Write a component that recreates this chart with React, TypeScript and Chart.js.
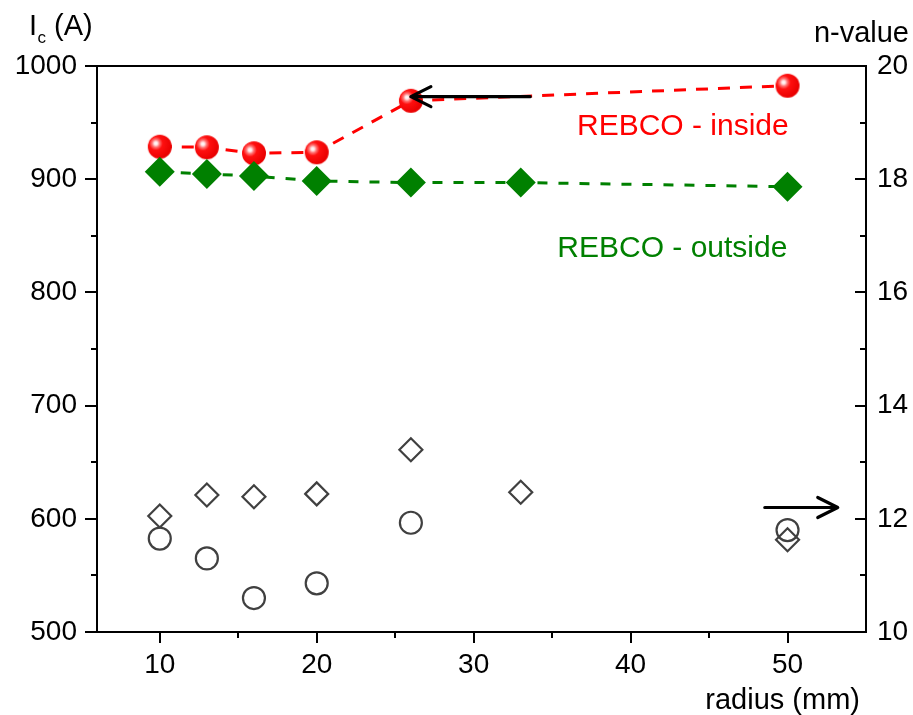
import React, { useEffect, useRef } from "react";
import { Chart, registerables } from "chart.js";

Chart.register(...registerables);

// ---- data ----
const insideRadius = [10, 13, 16, 20, 26, 50];
const insideIc = [928.7, 928.2, 922.9, 923.8, 969.3, 982.6];
const outsideRadius = [10, 13, 16, 20, 26, 33, 50];
const outsideIc = [906.6, 904.6, 902.8, 898.4, 897.0, 897.0, 893.4];
const insideN = [11.65, 11.3, 10.6, 10.86, 11.93, 11.8];
const outsideN = [12.05, 12.42, 12.39, 12.44, 13.22, 12.47, 11.63];

const xTicks = [10, 20, 30, 40, 50];
const xMinor = [15, 25, 35, 45];
const icTicks = [500, 600, 700, 800, 900, 1000];
const icMinor = [550, 650, 750, 850, 950];
const nTicks = [10, 12, 14, 16, 18, 20];
const nMinor = [11, 13, 15, 17, 19];

const FONT = "'Liberation Sans', Arial, Helvetica, sans-serif";

function pts(xs: number[], ys: number[]) {
  return xs.map((x, i) => ({ x, y: ys[i] }));
}

function makeSphere(r: number) {
  const s = 2 * r + 2;
  const c = document.createElement("canvas");
  c.width = s;
  c.height = s;
  const ctx = c.getContext("2d")!;
  const cx = s / 2;
  const cy = s / 2;
  const hx = cx - r * 0.33;
  const hy = cy - r * 0.28;
  const g = ctx.createRadialGradient(hx, hy, 0, hx, hy, r * 1.35);
  g.addColorStop(0, "#ffffff");
  g.addColorStop(0.1, "#ffe8e8");
  g.addColorStop(0.24, "#ff7070");
  g.addColorStop(0.42, "#ff1010");
  g.addColorStop(1, "#e80000");
  ctx.fillStyle = g;
  ctx.beginPath();
  ctx.arc(cx, cy, r, 0, Math.PI * 2);
  ctx.fill();
  return c;
}

const decorPlugin = {
  id: "decor",
  afterDraw(chart: any) {
    const ctx = chart.ctx as CanvasRenderingContext2D;
    const { left, right, top, bottom } = chart.chartArea;
    const xs = chart.scales.x;
    const y1 = chart.scales.y;
    const y2 = chart.scales.y2;
    ctx.save();
    ctx.strokeStyle = "#000";
    ctx.lineWidth = 2;
    ctx.setLineDash([]);
    ctx.strokeRect(left, top, right - left, bottom - top);
    ctx.beginPath();
    xTicks.forEach((v) => {
      const p = Math.round(xs.getPixelForValue(v));
      ctx.moveTo(p, bottom);
      ctx.lineTo(p, bottom + 11);
    });
    xMinor.forEach((v) => {
      const p = Math.round(xs.getPixelForValue(v));
      ctx.moveTo(p, bottom);
      ctx.lineTo(p, bottom + 6);
    });
    icTicks.forEach((v) => {
      const p = Math.round(y1.getPixelForValue(v));
      ctx.moveTo(left - 12, p);
      ctx.lineTo(left, p);
    });
    icMinor.forEach((v) => {
      const p = Math.round(y1.getPixelForValue(v));
      ctx.moveTo(left - 6, p);
      ctx.lineTo(left, p);
    });
    nTicks.forEach((v) => {
      const p = Math.round(y2.getPixelForValue(v));
      ctx.moveTo(right - 11, p);
      ctx.lineTo(right, p);
    });
    nMinor.forEach((v) => {
      const p = Math.round(y2.getPixelForValue(v));
      ctx.moveTo(right - 6, p);
      ctx.lineTo(right, p);
    });
    ctx.stroke();

    // arrows
    const arrow = (x0: number, x1: number, yy: number) => {
      ctx.lineWidth = 3.2;
      ctx.lineCap = "round";
      ctx.lineJoin = "round";
      ctx.beginPath();
      ctx.moveTo(x0, yy);
      ctx.lineTo(x1, yy);
      const d = x1 > x0 ? -1 : 1;
      ctx.moveTo(x1 + d * 20, yy - 10);
      ctx.lineTo(x1, yy);
      ctx.lineTo(x1 + d * 20, yy + 10);
      ctx.stroke();
    };
    arrow(xs.getPixelForValue(33.6), xs.getPixelForValue(26), y1.getPixelForValue(972.9));
    arrow(xs.getPixelForValue(48.55), xs.getPixelForValue(53.2), y2.getPixelForValue(12.2));

    // texts
    ctx.textBaseline = "alphabetic";
    ctx.font = `30px ${FONT}`;
    ctx.textAlign = "center";
    ctx.fillStyle = "#ff0000";
    ctx.fillText("REBCO - inside", xs.getPixelForValue(43.33), y1.getPixelForValue(939));
    ctx.fillStyle = "#008000";
    ctx.fillText("REBCO - outside", xs.getPixelForValue(42.66), y1.getPixelForValue(831.3));

    ctx.fillStyle = "#000";
    ctx.font = `29px ${FONT}`;
    ctx.textAlign = "left";
    ctx.fillText("I", 29, 35);
    ctx.fillText("(A)", 54, 35);
    ctx.font = `17px ${FONT}`;
    ctx.fillText("c", 37.5, 43);
    ctx.font = `29px ${FONT}`;
    ctx.textAlign = "right";
    ctx.fillText("n-value", 909, 42);
    ctx.fillText("radius (mm)", 860, 709);
    ctx.restore();
  },
};

const plainLabel = (v: any) => String(v);

export default function App() {
  const ref = useRef<HTMLCanvasElement | null>(null);
  useEffect(() => {
    document.body.style.margin = "0";
    const sphere = makeSphere(12);
    const chart = new Chart(ref.current!, {
      type: "line",
      data: {
        datasets: [
          {
            label: "outside Ic",
            data: pts(outsideRadius, outsideIc),
            yAxisID: "y",
            order: 0,
            borderColor: "#008000",
            backgroundColor: "#008000",
            borderWidth: 3,
            borderDash: [10, 11],
            pointStyle: "rectRot",
            pointRadius: 15,
            pointBorderWidth: 0,
            pointBackgroundColor: "#008000",
            tension: 0,
          },
          {
            label: "inside Ic",
            data: pts(insideRadius, insideIc),
            yAxisID: "y",
            order: 1,
            borderColor: "#ff0000",
            backgroundColor: "#ff0000",
            borderWidth: 3,
            borderDash: [12, 10],
            pointStyle: sphere as any,
            pointRadius: 12,
            tension: 0,
          },
          {
            label: "outside n",
            data: pts(outsideRadius, outsideN),
            yAxisID: "y2",
            order: 2,
            showLine: false,
            pointStyle: "rectRot",
            pointRadius: 11.5,
            pointBorderWidth: 2.2,
            pointBorderColor: "#404040",
            pointBackgroundColor: "rgba(0,0,0,0)",
          },
          {
            label: "inside n",
            data: pts(insideRadius, insideN),
            yAxisID: "y2",
            order: 3,
            showLine: false,
            pointStyle: "circle",
            pointRadius: 11,
            pointBorderWidth: 2.2,
            pointBorderColor: "#404040",
            pointBackgroundColor: "rgba(0,0,0,0)",
          },
        ],
      },
      options: {
        responsive: false,
        animation: false,
        layout: { padding: { top: 66, left: 0, right: 0, bottom: 0 } },
        plugins: { legend: { display: false }, tooltip: { enabled: false } },
        scales: {
          x: {
            type: "linear",
            position: "bottom",
            min: 6,
            max: 55,
            afterBuildTicks: (s: any) => {
              s.ticks = xTicks.map((v) => ({ value: v }));
            },
            afterFit: (s: any) => {
              s.height = 83;
            },
            grid: { display: false, drawTicks: false },
            border: { display: false },
            ticks: { color: "#000", font: { size: 28, family: FONT }, padding: 16, maxRotation: 0, callback: plainLabel },
          },
          y: {
            type: "linear",
            position: "left",
            min: 500,
            max: 1000,
            afterBuildTicks: (s: any) => {
              s.ticks = icTicks.map((v) => ({ value: v }));
            },
            afterFit: (s: any) => {
              s.width = 97;
            },
            grid: { display: false, drawTicks: false },
            border: { display: false },
            ticks: { color: "#000", font: { size: 28, family: FONT }, padding: 20, callback: plainLabel },
          },
          y2: {
            type: "linear",
            position: "right",
            min: 10,
            max: 20,
            afterBuildTicks: (s: any) => {
              s.ticks = nTicks.map((v) => ({ value: v }));
            },
            afterFit: (s: any) => {
              s.width = 47;
            },
            grid: { display: false, drawTicks: false },
            border: { display: false },
            ticks: { color: "#000", font: { size: 28, family: FONT }, padding: 11, callback: plainLabel },
          },
        },
      },
      plugins: [decorPlugin],
    } as any);
    return () => chart.destroy();
  }, []);
  return (
    <div style={{ width: 913, height: 715 }}>
      <canvas ref={ref} width={913} height={715} style={{ display: "block" }} />
    </div>
  );
}
